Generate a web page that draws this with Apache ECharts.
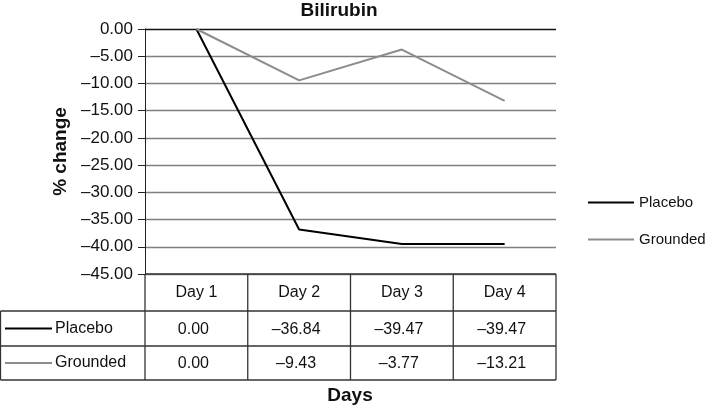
<!DOCTYPE html>
<html>
<head>
<meta charset="utf-8">
<script src="https://cdn.jsdelivr.net/npm/echarts@6/dist/echarts.min.js"></script>
<style>
  html, body { margin: 0; padding: 0; background: #fff; }
  #chart { width: 713px; height: 408px; }
</style>
</head>
<body>
<div id="chart"></div>
<script>
const days = ['Day 1', 'Day 2', 'Day 3', 'Day 4'];
const placebo = [0.00, -36.84, -39.47, -39.47];
const grounded = [0.00, -9.43, -3.77, -13.21];
const seriesNames = ['Placebo', 'Grounded'];
const seriesColors = ['#000000', '#8c8c8c'];

const FONT = '"Liberation Sans", Arial, sans-serif';
const fmt = (v) => (v < 0 ? '\u2013' : '') + Math.abs(v).toFixed(2);

// 10 split lines from -45 up to 0; the zero line is the dark category axis
const splitColors = ['#7f7f7f', '#7f7f7f', '#7f7f7f', '#7f7f7f', '#7f7f7f',
  '#7f7f7f', '#7f7f7f', '#7f7f7f', '#7f7f7f', '#111111'];

const chart = echarts.init(document.getElementById('chart'), null, { renderer: 'canvas' });

const GRID = { left: 145, right: 157, top: 29, bottom: 134 };

chart.setOption({
  animation: false,
  textStyle: { fontFamily: FONT },
  title: {
    text: 'Bilirubin', left: 339, top: 1, textAlign: 'center', padding: 0,
    textStyle: { fontSize: 19, fontWeight: 'bold', color: '#111', fontFamily: FONT }
  },
  legend: {
    orient: 'vertical', left: 588, top: 194, itemGap: 20, padding: 0,
    itemWidth: 46, itemHeight: 2, icon: 'rect',
    textStyle: { fontSize: 15, color: '#111', lineHeight: 17 },
    data: seriesNames
  },
  grid: GRID,
  xAxis: {
    type: 'category', data: days, boundaryGap: true,
    axisLine: { show: false }, axisTick: { show: false },
    axisLabel: { margin: 11, fontSize: 16, color: '#111' },
    splitLine: { show: false }
  },
  yAxis: {
    type: 'value', min: -45, max: 0, interval: 5,
    name: '% change', nameLocation: 'middle', nameGap: 72,
    nameTextStyle: { fontSize: 19, fontWeight: 'bold', color: '#111' },
    axisLine: { show: true, lineStyle: { color: '#222', width: 1 } },
    axisTick: { show: true, length: 7, lineStyle: { color: '#222' } },
    axisLabel: { fontSize: 17, color: '#111', margin: 12, formatter: fmt },
    splitLine: { show: true, lineStyle: { color: splitColors, width: 1.3 } }
  },
  series: [
    { name: seriesNames[0], type: 'line', data: placebo, symbol: 'none',
      lineStyle: { color: seriesColors[0], width: 2 }, itemStyle: { color: seriesColors[0] } },
    { name: seriesNames[1], type: 'line', data: grounded, symbol: 'none',
      lineStyle: { color: seriesColors[1], width: 2 }, itemStyle: { color: seriesColors[1] } }
  ]
});

// data table under the plot
function drawTable() {
  const top = chart.convertToPixel({ yAxisIndex: 0 }, -45);
  const centers = days.map((d) => chart.convertToPixel({ xAxisIndex: 0 }, d));
  const step = centers[1] - centers[0];
  const xL = centers[0] - step / 2;
  const xR = centers[centers.length - 1] + step / 2;
  const rowH = [37, 35, 34];
  const r1 = top + rowH[0], r2 = r1 + rowH[1], r3 = r2 + rowH[2];
  const els = [];
  const line = (x1, y1, x2, y2) => els.push({
    type: 'line', shape: { x1, y1, x2, y2 },
    style: { stroke: '#333', lineWidth: 1.3 }, silent: true
  });
  line(xL, top, xR, top);
  [r1, r2, r3].forEach((y) => line(0.5, y, xR, y));
  line(0.5, r1, 0.5, r3);
  for (let i = 0; i <= days.length; i++) line(xL + i * step, top, xL + i * step, r3);

  const rows = [placebo, grounded];
  const rowCenters = [r1 + rowH[1] / 2, r2 + rowH[2] / 2];
  rows.forEach((vals, r) => {
    els.push({ type: 'line', shape: { x1: 5, y1: rowCenters[r], x2: 52, y2: rowCenters[r] },
      style: { stroke: seriesColors[r], lineWidth: 2 }, silent: true });
    els.push({ type: 'text', x: 55, y: rowCenters[r],
      style: { text: seriesNames[r], font: '16px ' + FONT, fill: '#111', verticalAlign: 'middle' } });
    vals.forEach((v, i) => {
      els.push({ type: 'text', x: centers[i] - 3, y: rowCenters[r] + 1,
        style: { text: fmt(v), font: '16px ' + FONT, fill: '#111', align: 'center', verticalAlign: 'middle' } });
    });
  });
  els.push({ type: 'text', x: 350, y: 396,
    style: { text: 'Days', font: 'bold 19px ' + FONT, fill: '#111', align: 'center', verticalAlign: 'middle' } });
  chart.setOption({ graphic: { elements: els } });
}
drawTable();
</script>
</body>
</html>
